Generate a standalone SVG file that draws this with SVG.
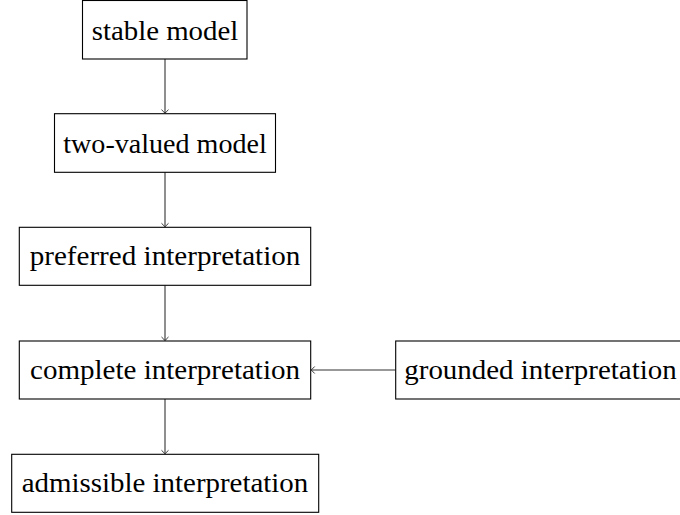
<svg xmlns="http://www.w3.org/2000/svg" width="680" height="515" viewBox="0 0 680 515">
<defs>
<style>
.box{fill:#fff;stroke:#000;stroke-width:1.1}
.lbl{font-family:"Liberation Serif","DejaVu Serif",serif;font-size:27px;fill:#000;text-anchor:middle}
.edge{stroke:#333;stroke-width:1.1;fill:none;marker-end:url(#tip)}
</style>
<marker id="tip" viewBox="-5 -5 6 10" refX="0" refY="0" markerWidth="6" markerHeight="10" markerUnits="userSpaceOnUse" orient="auto">
<path d="M-3.5,-3.5 Q-0.8,-0.6 0,0 Q-0.8,0.6 -3.5,3.5" fill="none" stroke="#222" stroke-width="0.9"/>
</marker>
</defs>
<rect width="680" height="515" fill="#fff"/>
<g id="connectors">
<line class="edge" x1="165" y1="59" x2="165" y2="113.2"/>
<line class="edge" x1="165" y1="172.3" x2="165" y2="226.8"/>
<line class="edge" x1="165" y1="285.3" x2="165" y2="340.5"/>
<line class="edge" x1="165" y1="399" x2="165" y2="453.8"/>
<line class="edge" x1="395.7" y1="370" x2="311.2" y2="370"/>
</g>
<g id="stable">
<rect class="box" x="82.5" y="0.5" width="164.5" height="58.5"/>
<text class="lbl" x="165" y="39.5" textLength="146.6" lengthAdjust="spacingAndGlyphs">stable model</text>
</g>
<g id="twovalued">
<rect class="box" x="54.5" y="113.7" width="221" height="58.6"/>
<text class="lbl" x="165" y="152.5" textLength="203.4" lengthAdjust="spacingAndGlyphs">two-valued model</text>
</g>
<g id="preferred">
<rect class="box" x="19.3" y="227.3" width="291.4" height="58"/>
<text class="lbl" x="165" y="265" textLength="270.7" lengthAdjust="spacingAndGlyphs">preferred interpretation</text>
</g>
<g id="complete">
<rect class="box" x="19.3" y="341" width="291.4" height="58"/>
<text class="lbl" x="165" y="378.5" textLength="270" lengthAdjust="spacingAndGlyphs">complete interpretation</text>
</g>
<g id="admissible">
<rect class="box" x="11.7" y="454.3" width="307" height="58"/>
<text class="lbl" x="165" y="492" textLength="286.6" lengthAdjust="spacingAndGlyphs">admissible interpretation</text>
</g>
<g id="grounded">
<rect class="box" x="395.7" y="341" width="290" height="58"/>
<text class="lbl" x="540.5" y="378.5" textLength="272.4" lengthAdjust="spacingAndGlyphs">grounded interpretation</text>
</g>
</svg>
